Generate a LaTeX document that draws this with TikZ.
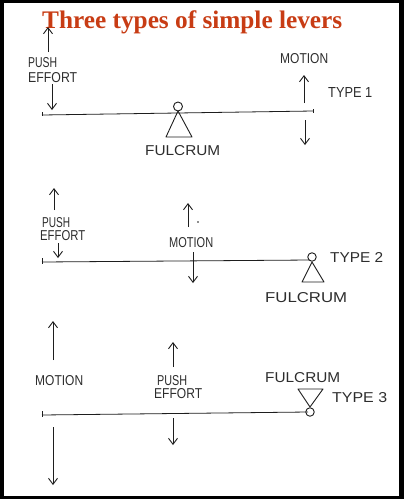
\documentclass[tikz,border=0pt]{standalone}
\usepackage{fontspec}
\setmainfont{Liberation Serif}
\newfontfamily\handfont{Liberation Sans}
\usetikzlibrary{arrows.meta}
\definecolor{titlered}{RGB}{200,60,20}
\definecolor{ink}{RGB}{30,30,30}
\definecolor{textink}{RGB}{45,45,45}
\newcommand{\hw}[2]{\resizebox{#1pt}{10pt}{#2}}
\begin{document}
\begin{tikzpicture}[x=1pt,y=-1pt,
  pen/.style={draw=ink,line width=0.9pt},
  arr/.style={pen,-{Straight Barb[length=6pt,width=9pt,line width=0.9pt]}},
  lbl/.style={inner sep=0pt,anchor=base west,text=textink,font=\handfont},
  lever/.style={pen,line width=0.8pt}]
% frame
\fill[black] (0,0) rectangle (404,499);
\fill[white] (4,3) rectangle (399,496);
\useasboundingbox (0,0) rectangle (404,499);
% title
\node[inner sep=0pt,anchor=base west,text=titlered,font=\bfseries] (title) at (42,28)
  {\resizebox{300pt}{!}{Three types of simple levers}};

% ---------- TYPE 1 ----------
\coordinate (l1a) at (42,115); \coordinate (l1b) at (313,111);
\draw[lever] (l1a) -- (l1b);
\draw[lever] (42,112) -- (42,116);
\draw[lever] (313,109) -- (313,113);
\node[pen,circle,minimum size=9pt,inner sep=0pt] (c1) at (178,106.5) {};
\coordinate (t1a) at (178,111); \coordinate (t1b) at (166,137); \coordinate (t1c) at (192,137);
\draw[pen,line join=round] (t1a) -- (t1b) -- (t1c) -- cycle;
\node[lbl] (ful1) at (145,155) {\hw{75}{FULCRUM}};
\node[lbl] (push1) at (28,67) {\hw{29}{PUSH}};
\node[lbl] (eff1) at (28,82) {\hw{49}{EFFORT}};
\coordinate (a1s) at (48,52); \coordinate (a1e) at (48,27);
\draw[arr] (a1s) -- (a1e);
\coordinate (a2s) at (52,84); \coordinate (a2e) at (52,110);
\draw[arr] (a2s) -- (a2e);
\node[lbl] (mot1) at (280,63) {\hw{48}{MOTION}};
\coordinate (a3s) at (304,103); \coordinate (a3e) at (304,75);
\draw[arr] (a3s) -- (a3e);
\coordinate (a4s) at (305,120); \coordinate (a4e) at (305,145);
\draw[arr] (a4s) -- (a4e);
\node[lbl] (type1) at (328,97) {\hw{44}{TYPE 1}};

% ---------- TYPE 2 ----------
\coordinate (l2a) at (42,262); \coordinate (l2b) at (310,260);
\draw[lever] (l2a) -- (l2b);
\draw[lever] (42,258) -- (42,264);
\coordinate (b1s) at (54,210); \coordinate (b1e) at (54,188);
\draw[arr] (b1s) -- (b1e);
\node[lbl] (push2) at (42,227) {\hw{28}{PUSH}};
\node[lbl] (eff2) at (40,240) {\hw{45}{EFFORT}};
\coordinate (b2s) at (58,243); \coordinate (b2e) at (58,258);
\draw[arr] (b2s) -- (b2e);
\coordinate (b3s) at (188,227); \coordinate (b3e) at (188,203);
\draw[arr] (b3s) -- (b3e);
\fill[ink] (198,222) circle (0.8pt);
\node[lbl] (mot2) at (169,247) {\hw{44}{MOTION}};
\coordinate (b4s) at (193,252); \coordinate (b4e) at (193,283);
\draw[arr] (b4s) -- (b4e);
\node[pen,circle,minimum size=8.5pt,inner sep=0pt] (c2) at (312,257) {};
\coordinate (t2a) at (312,262); \coordinate (t2b) at (302,282); \coordinate (t2c) at (324,282);
\draw[pen,line join=round] (t2a) -- (t2b) -- (t2c) -- cycle;
\node[lbl] (type2) at (330,262) {\hw{53}{TYPE 2}};
\node[lbl] (ful2) at (265,302) {\hw{82}{FULCRUM}};

% ---------- TYPE 3 ----------
\coordinate (l3a) at (42,415); \coordinate (l3b) at (308,412);
\draw[lever] (l3a) -- (l3b);
\draw[lever] (42,411) -- (42,417);
\coordinate (c1s) at (53,360); \coordinate (c1e) at (53,321);
\draw[arr] (c1s) -- (c1e);
\node[lbl] (mot3) at (35,385) {\hw{48}{MOTION}};
\coordinate (c2s) at (53,427); \coordinate (c2e) at (53,485);
\draw[arr] (c2s) -- (c2e);
\coordinate (c3s) at (173,367); \coordinate (c3e) at (173,342);
\draw[arr] (c3s) -- (c3e);
\node[lbl] (push3) at (157,385) {\hw{30}{PUSH}};
\node[lbl] (eff3) at (154,398) {\hw{48}{EFFORT}};
\coordinate (c4s) at (173,418); \coordinate (c4e) at (173,445);
\draw[arr] (c4s) -- (c4e);
\node[lbl] (ful3) at (265,382) {\hw{75}{FULCRUM}};
\coordinate (t3a) at (298,389); \coordinate (t3b) at (323,389); \coordinate (t3c) at (310,407);
\draw[pen,line join=round] (t3a) -- (t3b) -- (t3c) -- cycle;
\node[pen,circle,minimum size=8.5pt,inner sep=0pt] (c3) at (310,412) {};
\node[lbl] (type3) at (332,402) {\hw{55}{TYPE 3}};
\end{tikzpicture}
\end{document}
